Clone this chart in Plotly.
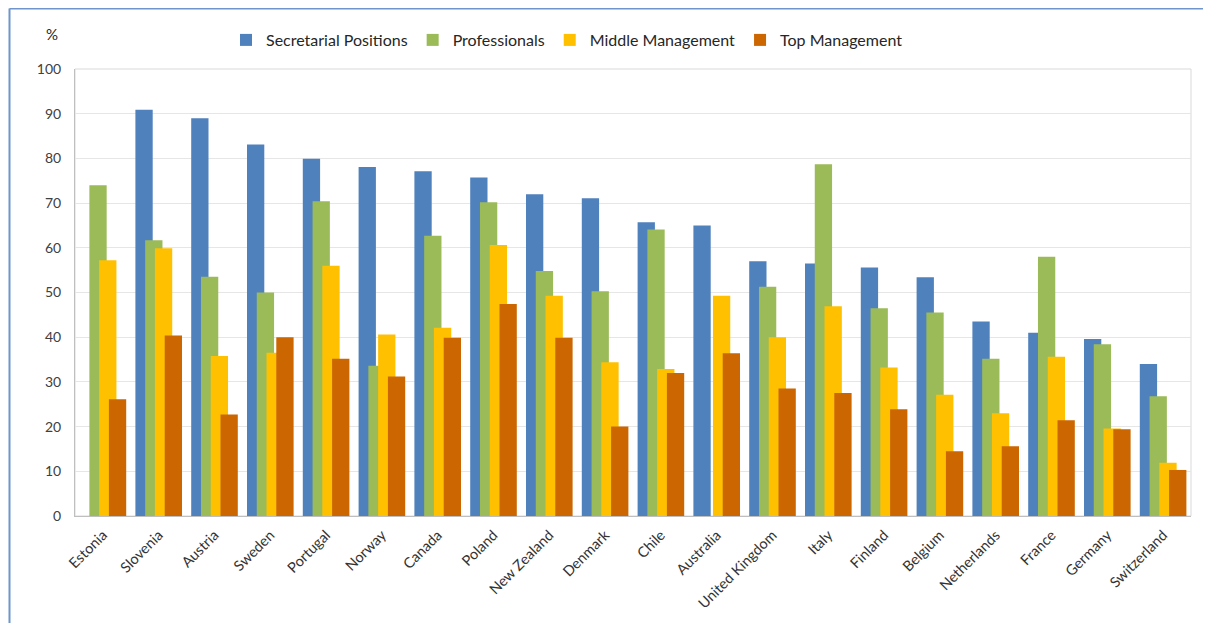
import plotly.graph_objects as go

countries = ["Estonia", "Slovenia", "Austria", "Sweden", "Portugal", "Norway", "Canada",
             "Poland", "New Zealand", "Denmark", "Chile", "Australia", "United Kingdom",
             "Italy", "Finland", "Belgium", "Netherlands", "France", "Germany", "Switzerland"]

secretarial = [None, 90.9, 89.0, 83.1, 79.9, 78.1, 77.1, 75.7, 72.0, 71.1, 65.7, 65.0,
               57.0, 56.5, 55.6, 53.4, 43.5, 41.0, 39.6, 34.0]
professionals = [74.0, 61.7, 53.5, 50.0, 70.4, 33.6, 62.7, 70.2, 54.8, 50.3, 64.1, None,
                 51.3, 78.7, 46.5, 45.5, 35.2, 58.0, 38.4, 26.8]
middle = [57.2, 59.9, 35.8, 36.5, 56.0, 40.6, 42.1, 60.6, 49.3, 34.4, 32.9, 49.3,
          40.0, 46.9, 33.2, 27.1, 23.0, 35.6, 19.6, 11.9]
top = [26.1, 40.4, 22.7, 40.0, 35.2, 31.2, 39.9, 47.4, 39.9, 20.0, 32.0, 36.4,
       28.5, 27.5, 23.9, 14.5, 15.6, 21.4, 19.4, 10.3]

series_names = ["Secretarial Positions", "Professionals", "Middle Management", "Top Management"]
series_values = [secretarial, professionals, middle, top]
colors = ["#4F81BD", "#9BBB59", "#FFC000", "#CC6600"]
offsets = [-0.4175, -0.2425, -0.0675, 0.1075]
bar_w = 0.31

FONT = "Lato, 'Liberation Sans', sans-serif"
TXT = "#404040"

fig = go.Figure()
for name, vals, col, off in zip(series_names, series_values, colors, offsets):
    fig.add_trace(go.Bar(
        x=countries, y=vals, name=name,
        marker=dict(color=col, line=dict(width=0)),
        width=bar_w, offset=off,
    ))

# page is drawn with an 8px body margin
OFF = 8
W, H = 1211 - OFF, 623 - OFF
PL, PR, PT, PB = 75, 1191, 69, 516  # plot area in page pixels
L, T = PL - OFF, PT - OFF
R = W - (PR - OFF)
B = H - (PB - OFF)
pw, ph = PR - PL, PB - PT

def px_x(p):
    return (p - PL) / pw

def px_y(p):
    return (PB - p) / ph

fig.update_layout(
    width=W, height=H,
    margin=dict(l=L, r=R, t=T, b=B, autoexpand=False),
    paper_bgcolor="white", plot_bgcolor="white",
    barmode="overlay",
    font=dict(family=FONT, color=TXT),
    legend=dict(
        orientation="h", x=px_x(567), xanchor="center", y=px_y(40), yanchor="middle",
        font=dict(size=16, color="#262626", family=FONT),
        traceorder="normal", itemclick=False,
    ),
    xaxis=dict(
        type="category", tickangle=-45, tickfont=dict(size=14.5, color="#333333"),
        showline=True, linecolor="#BFBFBF", linewidth=1, ticks="",
        showgrid=False, range=[-0.5, len(countries) - 0.5],
        ticklabelstandoff=4,
    ),
    yaxis=dict(
        range=[0, 100], dtick=10, tickfont=dict(size=14, color=TXT),
        showgrid=True, gridcolor="#E6E6E6", gridwidth=1,
        showline=True, linecolor="#BFBFBF", linewidth=1, ticks="",
        ticklabelstandoff=10, zeroline=False,
    ),
    annotations=[dict(
        text="%", x=px_x(52), y=px_y(34), xref="paper", yref="paper",
        showarrow=False, font=dict(size=15, color="#262626", family=FONT),
        xanchor="center", yanchor="middle",
    )],
    shapes=[
        dict(type="rect", xref="paper", yref="paper", x0=0, x1=1, y0=0, y1=1,
             line=dict(color="#D9D9D9", width=1), layer="below"),
        dict(type="line", xref="paper", yref="paper", x0=px_x(9.5), x1=px_x(9.5),
             y0=px_y(640), y1=px_y(8.5), line=dict(color="#6F95CC", width=2)),
        dict(type="line", xref="paper", yref="paper", x0=px_x(9.5), x1=px_x(1230),
             y0=px_y(8.5), y1=px_y(8.5), line=dict(color="#6F95CC", width=2)),
    ],
)

fig.write_html("out.html")
